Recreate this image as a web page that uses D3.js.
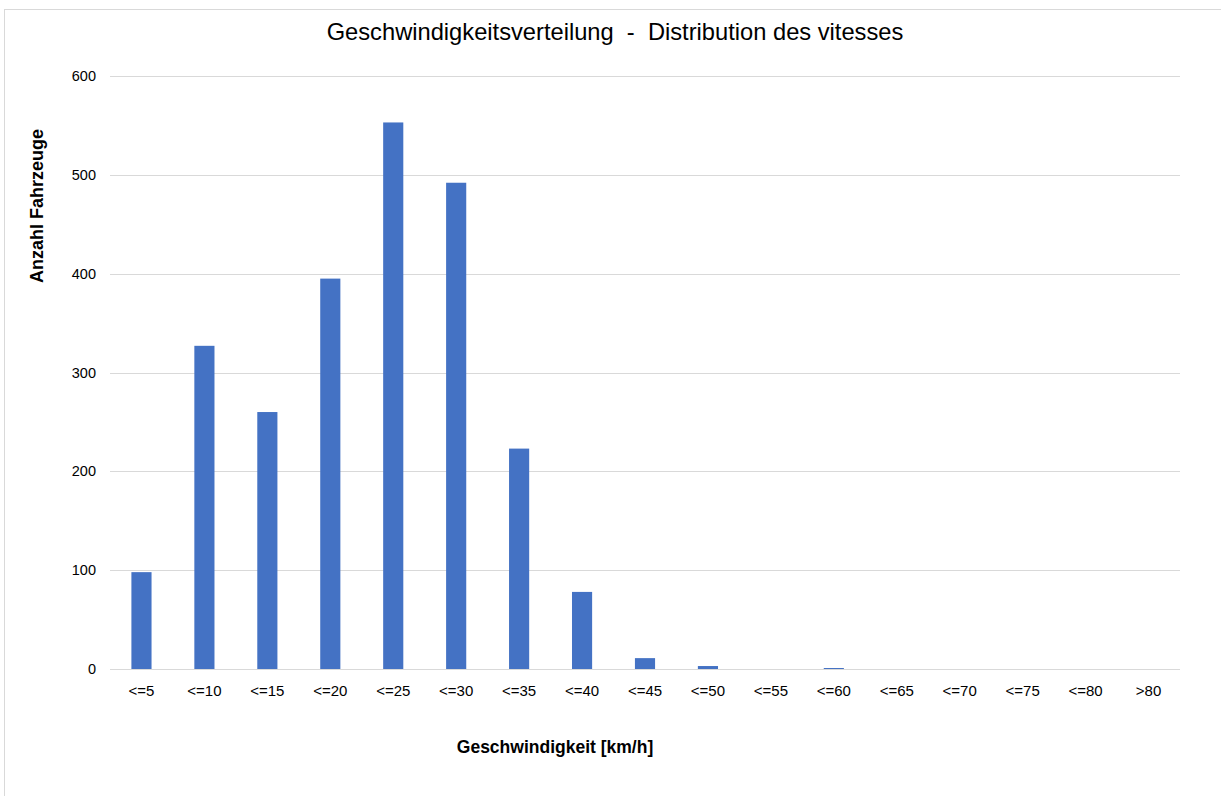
<!DOCTYPE html>
<html>
<head>
<meta charset="utf-8">
<script src="https://cdn.jsdelivr.net/npm/d3@7"></script>
<style>
  body { margin: 0; background: #fff; }
  text { font-family: "Liberation Sans", Arial, sans-serif; }
</style>
</head>
<body>
<script>
const categories = ['<=5', '<=10', '<=15', '<=20', '<=25', '<=30', '<=35', '<=40', '<=45',
    '<=50', '<=55', '<=60', '<=65', '<=70', '<=75', '<=80', '>80'];
const counts = [98, 327, 260, 395, 553, 492, 223, 78, 11, 3, 0, 1, 0, 0, 0, 0, 0];
const yTicks = [0, 100, 200, 300, 400, 500, 600];

const width = 1221, height = 796;
const margin = { left: 110, right: 41, top: 76, bottom: 127 };

const svg = d3.select('body').append('svg')
    .attr('width', width)
    .attr('height', height);

// chart border
svg.append('rect')
    .attr('x', 4.5)
    .attr('y', 9.5)
    .attr('width', width + 10)
    .attr('height', height + 10)
    .attr('fill', 'white')
    .attr('stroke', '#d9d9d9');

const x = d3.scaleBand()
    .domain(categories)
    .range([margin.left, width - margin.right])
    .paddingInner(0.68)
    .paddingOuter(0.34);

const y = d3.scaleLinear()
    .domain([0, 600])
    .range([height - margin.bottom, margin.top]);

// grid
svg.append('g')
    .selectAll('line')
    .data(yTicks)
    .enter()
    .append('line')
    .attr('x1', margin.left)
    .attr('x2', width - margin.right)
    .attr('y1', d => Math.round(y(d)) + 0.5)
    .attr('y2', d => Math.round(y(d)) + 0.5)
    .attr('stroke', '#d9d9d9')
    .attr('stroke-width', 1);

// y tick labels
svg.append('g')
    .selectAll('text')
    .data(yTicks)
    .enter()
    .append('text')
    .attr('x', margin.left - 14)
    .attr('y', d => y(d) + 5)
    .attr('text-anchor', 'end')
    .attr('font-size', '14.5px')
    .attr('fill', '#000')
    .text(d => d);

// bars
svg.append('g')
    .selectAll('rect')
    .data(counts)
    .enter()
    .append('rect')
    .attr('x', (d, i) => x(categories[i]))
    .attr('y', d => y(d))
    .attr('width', x.bandwidth())
    .attr('height', d => y(0) - y(d))
    .attr('fill', '#4472c4');

// x tick labels
svg.append('g')
    .selectAll('text')
    .data(categories)
    .enter()
    .append('text')
    .attr('x', d => x(d) + x.bandwidth() / 2)
    .attr('y', y(0) + 27)
    .attr('text-anchor', 'middle')
    .attr('font-size', '15px')
    .attr('fill', '#000')
    .text(d => d);

// title
svg.append('text')
    .attr('x', 615)
    .attr('y', 40)
    .attr('text-anchor', 'middle')
    .attr('font-size', '23.7px')
    .attr('fill', '#000')
    .attr('xml:space', 'preserve')
    .text('Geschwindigkeitsverteilung  -  Distribution des vitesses');

// axis titles
svg.append('text')
    .attr('x', 555)
    .attr('y', 753)
    .attr('text-anchor', 'middle')
    .attr('font-size', '17.5px')
    .attr('font-weight', 'bold')
    .attr('fill', '#000')
    .text('Geschwindigkeit [km/h]');

svg.append('text')
    .attr('transform', 'translate(43, 206) rotate(-90)')
    .attr('text-anchor', 'middle')
    .attr('font-size', '18px')
    .attr('font-weight', 'bold')
    .attr('fill', '#000')
    .text('Anzahl Fahrzeuge');
</script>
</body>
</html>
